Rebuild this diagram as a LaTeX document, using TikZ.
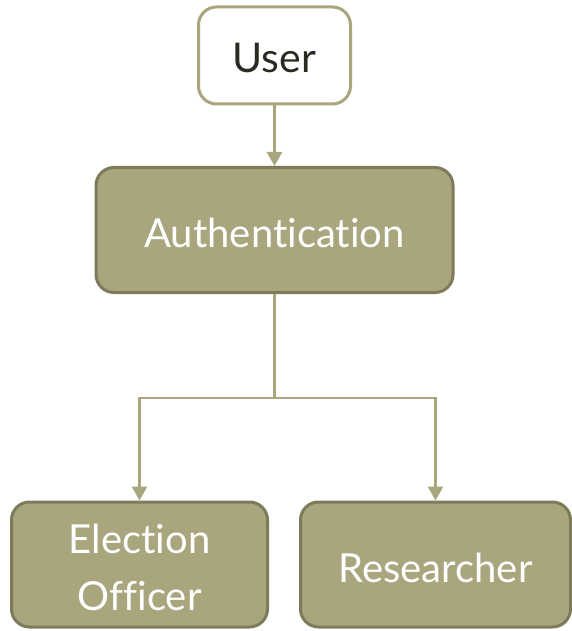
\documentclass[tikz,border=0pt]{standalone}
\usepackage{fontspec}
\setmainfont{Lato}[Ligatures=NoCommon]
\usetikzlibrary{arrows.meta}
\definecolor{olive}{HTML}{A9A57C}
\definecolor{olivedark}{HTML}{7E7B5B}
\definecolor{ink}{HTML}{2A2A22}
\newcommand{\lowertext}[2]{\raisebox{-#1}[\height][\depth]{#2}}
\begin{document}
\begin{tikzpicture}[x=1pt,y=-1pt,
  box/.style={draw=olivedark, fill=olive, line width=3pt, rounded corners=18pt,
    text=white, align=center, inner sep=0pt, font=\fontsize{40}{57}\selectfont},
  userbox/.style={box, draw=olive, fill=white, text=ink, font=\fontsize{41}{56}\selectfont},
  conn/.style={draw=olive, line width=2.5pt},
  arr/.style={conn, -{Triangle[length=14pt,width=15pt]}}]
\useasboundingbox (0,0) rectangle (571,631);
\node[userbox, minimum width=152pt, minimum height=97pt] (user) at (274.5,55.5) {\lowertext{2.5pt}{User}};
\node[box, minimum width=357pt, minimum height=125pt] (auth) at (274.5,230) {\lowertext{3pt}{Authentication}};
\node[box, minimum width=256pt, minimum height=125pt] (eo) at (139.5,564.5) {\lowertext{6pt}{\begin{tabular}{@{}c@{}}Election\\Officer\end{tabular}}};
\node[box, minimum width=270pt, minimum height=125pt] (res) at (435.5,564.5) {\lowertext{3.5pt}{Researcher}};
\coordinate (split) at (274.5,398);
\draw[arr] (user) -- (auth);
\draw[arr] (auth.south) -- (split) -| (eo.north);
\draw[arr] (split) -| (res.north);
\end{tikzpicture}
\end{document}
